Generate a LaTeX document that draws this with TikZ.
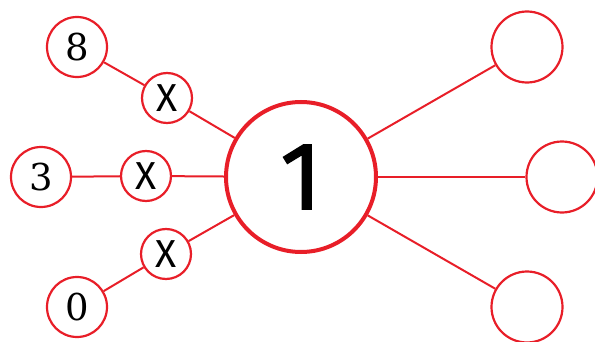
\documentclass[tikz,border=0pt]{standalone}
\usepackage{fontspec}
\newfontfamily\sansx{Fira Sans}
\newfontfamily\onefont{Fira Sans}[FakeBold=1.5]
\newfontfamily\serifx{DejaVu Serif}
\definecolor{cred}{RGB}{232,30,40}
\begin{document}
\begin{tikzpicture}[x=1pt,y=1pt,
  num/.style={circle,draw=cred,line width=2.2pt,fill=white,minimum size=60pt,inner sep=0pt,font=\serifx\fontsize{37}{37}\selectfont},
  xnode/.style={circle,draw=cred,line width=2.2pt,fill=white,minimum size=50pt,inner sep=0pt,font=\sansx\fontsize{39}{39}\selectfont},
  empty/.style={circle,draw=cred,line width=2.2pt,fill=white,minimum size=71pt,inner sep=0pt},
  big/.style={circle,draw=cred,line width=4pt,fill=white,minimum size=150pt,inner sep=0pt,font=\onefont\fontsize{96}{96}\selectfont},
  link/.style={draw=cred,line width=2pt}]
\useasboundingbox (0,0) rectangle (595,341);
\node[big] (c) at (301,164) {1};
\node[num] (n8) at (77,294) {8};
\node[num] (n3) at (41,164) {3};
\node[num] (n0) at (77,34) {0};
\node[xnode] (x1) at (167,243) {X};
\node[xnode] (x2) at (146,165) {X};
\node[xnode] (x3) at (166,87) {X};
\node[empty] (r1) at (527,294) {};
\node[empty] (r2) at (562,164) {};
\node[empty] (r3) at (527,34) {};
\draw[link] (n8) -- (x1);
\draw[link] (x1) -- (c);
\draw[link] (n3) -- (x2);
\draw[link] (x2) -- (c);
\draw[link] (n0) -- (x3);
\draw[link] (x3) -- (c);
\draw[link] (c) -- (r1);
\draw[link] (c) -- (r2);
\draw[link] (c) -- (r3);
\end{tikzpicture}
\end{document}
